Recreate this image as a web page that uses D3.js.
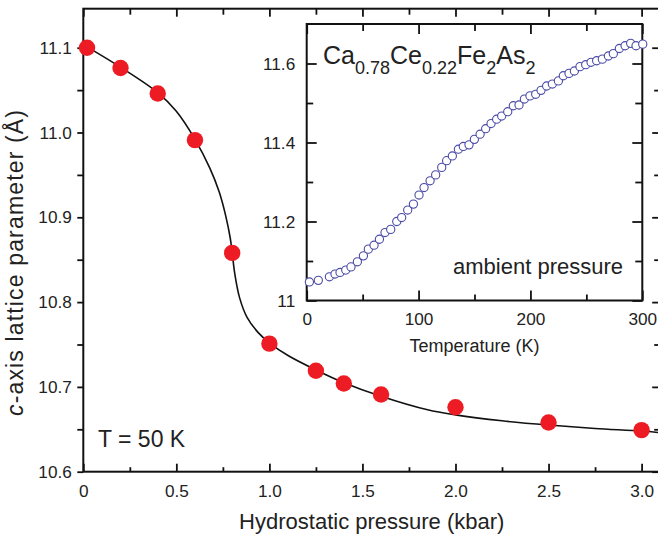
<!DOCTYPE html>
<html><head><meta charset="utf-8">
<script src="https://cdn.jsdelivr.net/npm/d3@7"></script>
<style>
html,body{margin:0;padding:0;background:#fff;}
svg{display:block;font-family:Arial,"Liberation Sans",Helvetica,sans-serif;}
</style></head>
<body>
<svg id="chart" width="658" height="534"></svg>
<script>
// ---- main panel data (T = 50 K) ----
const pressure = [0.02, 0.2, 0.4, 0.6, 0.8, 1.0, 1.25, 1.4, 1.6, 2.0, 2.5, 3.0];
const latticeC = [11.100, 11.076, 11.046, 10.991, 10.858, 10.751, 10.719, 10.704, 10.691, 10.676, 10.658, 10.649];
// guide-to-the-eye curve
const curveP = [0.02, 0.2, 0.4, 0.5, 0.6, 0.68, 0.73, 0.765, 0.79, 0.80, 0.815, 0.84, 0.88, 0.94, 1.0, 1.1, 1.25, 1.4, 1.6, 1.85, 2.0, 2.25, 2.5, 2.75, 3.0, 3.1];
const curveC = [11.101, 11.077, 11.047, 11.025, 10.992, 10.958, 10.930, 10.902, 10.875, 10.858, 10.832, 10.805, 10.782, 10.764, 10.752, 10.737, 10.720, 10.705, 10.689, 10.673, 10.667, 10.660, 10.655, 10.651, 10.648, 10.646];
const mainXTicks = [0, 0.5, 1.0, 1.5, 2.0, 2.5, 3.0];
const mainYTicks = [10.6, 10.7, 10.8, 10.9, 11.0, 11.1];

// ---- inset data (ambient pressure) ----
const temperature = [2.4, 10.4, 20.3, 25.3, 29.8, 34.9, 39.6, 45.3, 50.7, 55.1, 60.2, 65, 70, 75.1, 80.5, 84.9, 90.3, 95.4, 100.4, 104.9, 110.3, 115.3, 120.7, 125.1, 130.2, 135.6, 140, 145.1, 149.9, 155, 160, 164.8, 169.8, 174.3, 179.7, 184.7, 189.8, 194.6, 199.6, 204.7, 209.5, 214.5, 219.6, 225, 229.4, 234.5, 239.3, 244.3, 249.4, 254.2, 259.2, 264.3, 269.7, 274.1, 279.5, 284.6, 289.6, 294.4, 300.4];
const latticeCT = [11.047, 11.051, 11.060, 11.067, 11.071, 11.077, 11.085, 11.098, 11.113, 11.130, 11.140, 11.155, 11.172, 11.180, 11.200, 11.210, 11.229, 11.244, 11.267, 11.286, 11.303, 11.318, 11.337, 11.354, 11.366, 11.383, 11.390, 11.394, 11.408, 11.421, 11.435, 11.448, 11.459, 11.467, 11.478, 11.493, 11.495, 11.510, 11.518, 11.522, 11.532, 11.543, 11.548, 11.556, 11.569, 11.575, 11.581, 11.592, 11.597, 11.603, 11.607, 11.611, 11.619, 11.625, 11.638, 11.645, 11.651, 11.645, 11.649];
const insetXTicks = [0, 100, 200, 300];
const insetYTicks = [11.0, 11.2, 11.4, 11.6];

const svg = d3.select("#chart");
const FONT = 'Arial,"Liberation Sans",Helvetica,sans-serif';
const TICKFS = "17.2px";

// ---- scales ----
const x = d3.scaleLinear().domain([0, 3.1]).range([83.3, 660.2]);
const y = d3.scaleLinear().domain([10.6, 11.146]).range([471.7, 8.7]);
const xi = d3.scaleLinear().domain([0, 300]).range([306.7, 642.3]);
const yi = d3.scaleLinear().domain([11.0, 11.7]).range([300.5, 24]);

function styleAxis(g) {
  g.select(".domain").remove();
  g.selectAll(".tick line").attr("stroke", "#111").attr("stroke-width", 1.8);
  g.selectAll(".tick text").attr("fill", "#222").attr("font-size", TICKFS).attr("font-family", FONT);
}

// ---- main panel axes ----
const [x0, x1] = x.range(), [y0, y1] = y.range();
const minorX = d3.range(0, 3.11, 0.25).filter(v => !mainXTicks.some(t => Math.abs(t - v) < 1e-6));
const minorY = d3.range(10.65, 11.15, 0.1);

// bottom
svg.append("g").attr("transform", `translate(0,${y0})`)
  .call(d3.axisBottom(x).tickValues(mainXTicks).tickSize(-8).tickPadding(13)
    .tickFormat(d => d === 0 ? "0" : d.toFixed(1)))
  .call(styleAxis);
svg.append("g").attr("transform", `translate(0,${y0})`)
  .call(d3.axisBottom(x).tickValues(minorX).tickSize(-4.5).tickFormat(""))
  .call(styleAxis);
// top
svg.append("g").attr("transform", `translate(0,${y1})`)
  .call(d3.axisTop(x).tickValues(mainXTicks).tickSize(-8).tickFormat(""))
  .call(styleAxis);
svg.append("g").attr("transform", `translate(0,${y1})`)
  .call(d3.axisTop(x).tickValues(minorX).tickSize(-6).tickFormat(""))
  .call(styleAxis);
// left (outward)
svg.append("g").attr("transform", `translate(${x0},0)`)
  .call(d3.axisLeft(y).tickValues(mainYTicks).tickSize(6).tickPadding(5.5)
    .tickFormat(d => d.toFixed(1)))
  .call(styleAxis);
svg.append("g").attr("transform", `translate(${x0},0)`)
  .call(d3.axisLeft(y).tickValues(minorY).tickSize(6).tickFormat(""))
  .call(styleAxis);
// right (inward)
svg.append("g").attr("transform", `translate(${x1},0)`)
  .call(d3.axisRight(y).tickValues(mainYTicks).tickSize(-8).tickFormat(""))
  .call(styleAxis);
svg.append("g").attr("transform", `translate(${x1},0)`)
  .call(d3.axisRight(y).tickValues(minorY).tickSize(-6).tickFormat(""))
  .call(styleAxis);

// frame
svg.append("rect").attr("x", x0).attr("y", y1).attr("width", x1 - x0).attr("height", y0 - y1)
  .attr("fill", "none").attr("stroke", "#111").attr("stroke-width", 2);

// curve
const curvePts = curveP.map((p, i) => [p, curveC[i]]);
svg.append("path").datum(curvePts)
  .attr("d", d3.line().x(d => x(d[0])).y(d => y(d[1])).curve(d3.curveCatmullRom.alpha(0.5)))
  .attr("fill", "none").attr("stroke", "#111").attr("stroke-width", 1.6);

// points
svg.append("g").selectAll("circle").data(pressure.map((p, i) => [p, latticeC[i]]))
  .join("circle").attr("cx", d => x(d[0])).attr("cy", d => y(d[1])).attr("r", 8.2)
  .attr("fill", "#ed1c24");

// main labels
svg.append("text").attr("x", (x0 + 660.2) / 2).attr("y", 528.5).attr("text-anchor", "middle")
  .attr("font-size", "22px").attr("fill", "#222").text("Hydrostatic pressure (kbar)");
const yl = svg.append("text").attr("transform", "translate(23,263) rotate(-90)")
  .attr("text-anchor", "middle").attr("font-size", "23px").attr("fill", "#222")
  .attr("textLength", 306).attr("lengthAdjust", "spacing");
yl.append("tspan").attr("font-style", "italic").text("c");
yl.append("tspan").text("-axis lattice parameter (Å)");

svg.append("text").attr("x", 98).attr("y", 446.5).attr("font-size", "23px").attr("fill", "#222")
  .text("T = 50 K");

// ---- inset ----
const [ix0, ix1] = xi.range(), [iy0, iy1] = yi.range();
svg.append("rect").attr("x", ix0).attr("y", iy1).attr("width", ix1 - ix0).attr("height", iy0 - iy1)
  .attr("fill", "#fff");
const iminX = [50, 150, 250];
const iminY = [11.1, 11.3, 11.5];
svg.append("g").attr("transform", `translate(0,${iy0})`)
  .call(d3.axisBottom(xi).tickValues(insetXTicks).tickSize(-10).tickPadding(12).tickFormat(d3.format("d")))
  .call(styleAxis);
svg.append("g").attr("transform", `translate(0,${iy0})`)
  .call(d3.axisBottom(xi).tickValues(iminX).tickSize(-6).tickFormat(""))
  .call(styleAxis);
svg.append("g").attr("transform", `translate(0,${iy1})`)
  .call(d3.axisTop(xi).tickValues(insetXTicks).tickSize(-10).tickFormat(""))
  .call(styleAxis);
svg.append("g").attr("transform", `translate(0,${iy1})`)
  .call(d3.axisTop(xi).tickValues(iminX).tickSize(-7).tickFormat(""))
  .call(styleAxis);
svg.append("g").attr("transform", `translate(${ix0},0)`)
  .call(d3.axisLeft(yi).tickValues(insetYTicks).tickSize(-10).tickPadding(11.5)
    .tickFormat(d => d === 11 ? "11" : d.toFixed(1)))
  .call(styleAxis);
svg.append("g").attr("transform", `translate(${ix0},0)`)
  .call(d3.axisLeft(yi).tickValues(iminY).tickSize(-6.5).tickFormat(""))
  .call(styleAxis);
svg.append("g").attr("transform", `translate(${ix1},0)`)
  .call(d3.axisRight(yi).tickValues(insetYTicks).tickSize(-10).tickFormat(""))
  .call(styleAxis);
svg.append("g").attr("transform", `translate(${ix1},0)`)
  .call(d3.axisRight(yi).tickValues(iminY).tickSize(-7).tickFormat(""))
  .call(styleAxis);
svg.append("rect").attr("x", ix0).attr("y", iy1).attr("width", ix1 - ix0).attr("height", iy0 - iy1)
  .attr("fill", "none").attr("stroke", "#111").attr("stroke-width", 2);

svg.append("g").selectAll("circle").data(temperature.map((t, i) => [t, latticeCT[i]]))
  .join("circle").attr("cx", d => xi(d[0])).attr("cy", d => yi(d[1])).attr("r", 4.1)
  .attr("fill", "#fff").attr("stroke", "#4a4aa6").attr("stroke-width", 1.1);

svg.append("text").attr("x", (ix0 + ix1) / 2).attr("y", 351.5).attr("text-anchor", "middle")
  .attr("font-size", "18px").attr("fill", "#222").text("Temperature (K)");
svg.append("text").attr("x", 623).attr("y", 273.5).attr("text-anchor", "end")
  .attr("font-size", "22px").attr("fill", "#222").text("ambient pressure");

// compound formula with subscripts
const formula = [["Ca", false], ["0.78", true], ["Ce", false], ["0.22", true], ["Fe", false], ["2", true], ["As", false], ["2", true]];
const ft = svg.append("text").attr("x", 323).attr("y", 64).attr("font-size", "25px").attr("fill", "#222");
let down = false;
formula.forEach(([s, sub]) => {
  const ts = ft.append("tspan").text(s);
  if (sub && !down) { ts.attr("dy", 10).attr("font-size", "18px"); down = true; }
  else if (!sub && down) { ts.attr("dy", -10); down = false; }
  else if (sub) { ts.attr("font-size", "18px"); }
});
</script>
</body></html>
